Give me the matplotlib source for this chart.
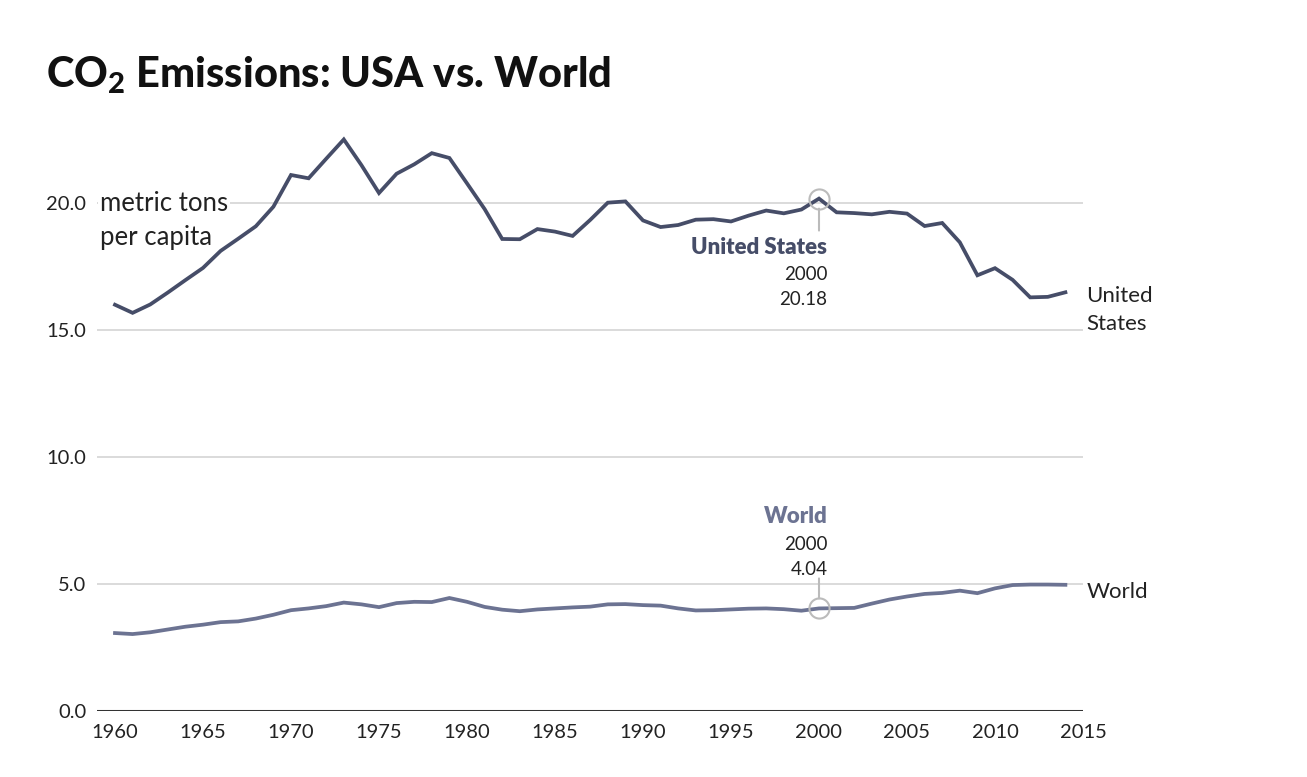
import matplotlib
matplotlib.use("Agg")
import matplotlib.pyplot as plt

plt.rcParams["font.family"] = ["Lato", "DejaVu Sans"]
plt.rcParams["mathtext.fontset"] = "custom"
plt.rcParams["mathtext.rm"] = "Lato:black"

years = list(range(1960, 2015))
usa = [16.00, 15.68, 16.01, 16.48, 16.97, 17.45, 18.12, 18.60, 19.09, 19.86,
       21.11, 20.98, 21.75, 22.51, 21.50, 20.40, 21.16, 21.53, 21.97, 21.78,
       20.78, 19.77, 18.59, 18.58, 18.98, 18.88, 18.71, 19.34, 20.02, 20.07,
       19.32, 19.06, 19.14, 19.35, 19.37, 19.28, 19.51, 19.71, 19.60, 19.75,
       20.18, 19.64, 19.61, 19.56, 19.66, 19.59, 19.10, 19.22, 18.46, 17.16,
       17.44, 16.98, 16.29, 16.31, 16.49]
world = [3.07, 3.03, 3.10, 3.21, 3.32, 3.40, 3.50, 3.53, 3.64, 3.79,
         3.97, 4.04, 4.13, 4.27, 4.20, 4.09, 4.25, 4.30, 4.29, 4.45,
         4.30, 4.10, 3.99, 3.93, 4.00, 4.04, 4.08, 4.11, 4.20, 4.21,
         4.17, 4.15, 4.04, 3.96, 3.97, 4.00, 4.03, 4.04, 4.01, 3.95,
         4.04, 4.05, 4.06, 4.23, 4.39, 4.51, 4.61, 4.65, 4.74, 4.64,
         4.83, 4.96, 4.98, 4.98, 4.97]
yticks = [0, 5, 10, 15, 20]
xticks = list(range(1960, 2016, 5))
hl_year = 2000

US_C = "#464d68"
WO_C = "#6c7392"
GRID_C = "#d4d4d4"
TXT_C = "#222222"

W, H = 1307, 777
fig = plt.figure(figsize=(W / 100, H / 100), dpi=100)
# axes placed in pixels: x 1959 -> 97px, 2015 -> 1083px ; y 0 -> 711px, 23 -> 127px
ax = fig.add_axes([97.4 / W, 1 - 711 / H, (1083 - 97.4) / W, (711 - 127) / H])
ax.set_xlim(1959, 2015)
ax.set_ylim(0, 23)

for s in ax.spines.values():
    s.set_visible(False)
ax.set_yticks(yticks)
ax.set_yticklabels([f"{v:.1f}" for v in yticks])
ax.set_xticks(xticks)
ax.tick_params(length=0, labelsize=14.5, labelcolor=TXT_C)
ax.tick_params(axis="y", pad=8)
ax.tick_params(axis="x", pad=9)
for v in yticks[1:]:
    ax.axhline(v, color=GRID_C, lw=1.2, zorder=1)
ax.axhline(0, color="#333333", lw=2.2, zorder=1)

ax.plot(years, usa, color=US_C, lw=2.7, zorder=3, solid_joinstyle="miter")
ax.plot(years, world, color=WO_C, lw=2.7, zorder=3, solid_joinstyle="miter")

# unit label, first line sits on the 20.0 grid line
box = dict(facecolor="white", edgecolor="none", pad=1.5)
ax.annotate("metric tons", xy=(1959, 20), xytext=(2, 0), textcoords="offset points",
            fontsize=18.5, color=TXT_C, ha="left", va="center", bbox=box, zorder=4)
ax.annotate("per capita", xy=(1959, 20), xytext=(2, -24.5), textcoords="offset points",
            fontsize=18.5, color=TXT_C, ha="left", va="center", zorder=4)

# end labels
ax.annotate("United\nStates", xy=(2014, usa[-1]), xytext=(15, -13),
            textcoords="offset points", fontsize=16, color=TXT_C,
            ha="left", va="center", linespacing=1.5)
ax.annotate("World", xy=(2014, world[-1]), xytext=(15, -5),
            textcoords="offset points", fontsize=16, color=TXT_C,
            ha="left", va="center")

# highlight markers at 2000
i = years.index(hl_year)
for vals in (usa, world):
    ax.plot([hl_year], [vals[i]], marker="o", ms=14.5, mfc="none",
            mec="#bbbbbb", mew=1.5, zorder=4)

ax.annotate("", xy=(hl_year, usa[i]), xytext=(0, -23), textcoords="offset points",
            arrowprops=dict(arrowstyle="-", color="#bbbbbb", lw=1.5,
                            shrinkA=0, shrinkB=7.2))
ax.annotate("", xy=(hl_year, world[i]), xytext=(0, 21.6), textcoords="offset points",
            arrowprops=dict(arrowstyle="-", color="#bbbbbb", lw=1.5,
                            shrinkA=0, shrinkB=7.2))

ax.annotate("United States", xy=(hl_year, usa[i]), xytext=(6, -35),
            textcoords="offset points", fontsize=16, fontweight="heavy",
            color=US_C, ha="right", va="center")
ax.annotate(str(hl_year), xy=(hl_year, usa[i]), xytext=(6, -54.5),
            textcoords="offset points", fontsize=13.5, color=TXT_C,
            ha="right", va="center")
ax.annotate(f"{usa[i]:.2f}", xy=(hl_year, usa[i]), xytext=(6, -72.5),
            textcoords="offset points", fontsize=13.5, color=TXT_C,
            ha="right", va="center")

ax.annotate("World", xy=(hl_year, world[i]), xytext=(6, 66),
            textcoords="offset points", fontsize=16, fontweight="heavy",
            color=WO_C, ha="right", va="center")
ax.annotate(str(hl_year), xy=(hl_year, world[i]), xytext=(6, 46),
            textcoords="offset points", fontsize=13.5, color=TXT_C,
            ha="right", va="center")
ax.annotate(f"{world[i]:.2f}", xy=(hl_year, world[i]), xytext=(6, 28),
            textcoords="offset points", fontsize=13.5, color=TXT_C,
            ha="right", va="center")

fig.text(46 / W, 1 - 75 / H, r"CO$_\mathrm{2}$ Emissions: USA vs. World",
         fontsize=30, fontweight="black", color="#111111", ha="left", va="center")

fig.savefig("out.png", dpi=100, facecolor="white")
